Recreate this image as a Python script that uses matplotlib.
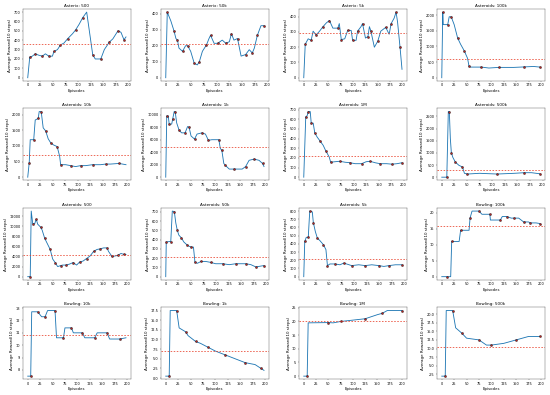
import matplotlib
matplotlib.use("Agg")
import matplotlib.pyplot as plt

titles = ["Asterix: 500", "Asterix: 50k", "Asterix: 5k", "Asteroids: 100k",
          "Asteroids: 10k", "Asteroids: 1k", "Asteroids: 1M", "Asteroids: 500k",
          "Asteroids: 500", "Asteroids: 50k", "Asteroids: 5k", "Bowling: 100k",
          "Bowling: 10k", "Bowling: 1k", "Bowling: 1M", "Bowling: 500k"]

ep1 = [0, 4, 9, 15, 22, 29, 35, 42, 49, 52, 59, 65, 72, 79, 89, 95, 102, 109, 117, 129, 134, 145, 152, 162, 169, 179, 185, 191, 195]
rw1 = [0, 220, 230, 255, 240, 230, 255, 230, 230, 280, 300, 350, 370, 415, 470, 510, 570, 640, 700, 245, 200, 200, 300, 380, 415, 500, 485, 405, 435]
ep2 = [0, 3, 10, 16, 20, 23, 26, 33, 39, 43, 49, 56, 62, 66, 72, 80, 85, 88, 95, 102, 111, 118, 125, 129, 134, 141, 148, 157, 164, 170, 174, 180, 187, 193]
rw2 = [0, 410, 355, 295, 245, 235, 185, 165, 200, 200, 165, 90, 80, 100, 165, 205, 245, 265, 215, 215, 235, 215, 225, 275, 235, 245, 135, 145, 175, 155, 185, 265, 325, 325]
ep3 = [0, 3, 9, 15, 19, 25, 32, 39, 46, 52, 59, 69, 72, 76, 83, 89, 96, 99, 106, 109, 116, 119, 125, 130, 133, 136, 143, 150, 156, 166, 173, 177, 183, 187, 190, 195, 199]
rw3 = [0, 220, 255, 245, 305, 280, 305, 335, 360, 375, 325, 325, 355, 250, 255, 310, 310, 245, 245, 305, 335, 355, 260, 270, 335, 305, 200, 240, 305, 330, 285, 355, 390, 430, 365, 200, 55]
ep4 = [0, 2, 3, 12, 15, 19, 25, 32, 38, 45, 52, 55, 58, 80, 95, 115, 145, 165, 185, 198]
rw4 = [0, 2100, 1700, 1700, 1950, 1950, 1700, 1270, 1070, 870, 620, 360, 340, 340, 310, 330, 330, 345, 360, 340]
ep5 = [0, 3, 5, 12, 15, 21, 23, 27, 31, 36, 41, 46, 52, 59, 64, 66, 76, 86, 96, 106, 116, 130, 146, 156, 166, 183, 197]
rw5 = [0, 470, 1200, 1200, 1830, 1880, 2100, 2100, 1580, 1480, 1230, 1100, 1030, 980, 670, 400, 400, 370, 340, 370, 370, 400, 400, 420, 420, 440, 400]
ep6 = [0, 2, 5, 7, 12, 14, 17, 19, 22, 27, 32, 39, 44, 47, 51, 58, 63, 73, 80, 86, 93, 107, 110, 113, 117, 120, 128, 137, 154, 161, 168, 178, 188, 195, 198]
rw6 = [0, 9800, 9800, 8500, 8500, 9300, 10500, 10500, 8700, 7500, 7100, 7100, 8100, 8000, 6600, 6100, 6900, 7100, 6900, 5900, 6000, 6000, 4600, 4300, 2200, 1900, 1300, 1300, 1300, 1700, 2700, 2900, 2700, 2200, 1700]
ep7 = [0, 4, 7, 9, 13, 15, 19, 22, 27, 32, 39, 44, 51, 54, 62, 72, 83, 93, 103, 116, 125, 133, 143, 153, 166, 177, 187, 197]
rw7 = [0, 625, 640, 680, 680, 560, 560, 460, 415, 380, 330, 275, 210, 155, 160, 165, 155, 150, 140, 140, 160, 165, 150, 140, 140, 135, 140, 150]
ep8 = [0, 10, 13, 15, 17, 19, 22, 27, 34, 41, 45, 51, 75, 110, 144, 164, 178, 195]
rw8 = [0, 0, 2700, 2700, 1600, 1010, 815, 620, 490, 420, 160, 130, 160, 130, 160, 185, 185, 140]
ep9 = [0, 5, 7, 10, 14, 17, 20, 26, 29, 34, 40, 45, 50, 55, 60, 66, 70, 77, 84, 91, 98, 104, 111, 118, 125, 132, 139, 145, 152, 159, 162, 169, 175, 180, 187, 193, 197]
rw9 = [0, 0, 13000, 10500, 10500, 11400, 10400, 9800, 9200, 7600, 6400, 5400, 3500, 2800, 2000, 2200, 2300, 2300, 2500, 2800, 2300, 2900, 3100, 3600, 4100, 5000, 5400, 5500, 5700, 5700, 5000, 4000, 4100, 4200, 4600, 4400, 4400]
ep10 = [0, 1, 7, 10, 13, 17, 20, 23, 26, 31, 36, 42, 46, 51, 55, 58, 63, 70, 79, 89, 99, 113, 126, 139, 149, 159, 169, 179, 189, 195]
rw10 = [0, 375, 380, 380, 710, 705, 580, 500, 450, 420, 375, 345, 330, 320, 320, 155, 145, 165, 165, 155, 140, 140, 130, 140, 140, 140, 130, 105, 115, 120]
ep11 = [0, 2, 5, 9, 11, 12, 17, 19, 23, 27, 32, 39, 44, 47, 52, 62, 72, 79, 85, 95, 109, 122, 135, 149, 159, 169, 182, 195]
rw11 = [0, 430, 480, 480, 705, 800, 790, 660, 550, 470, 440, 390, 330, 135, 155, 155, 145, 165, 155, 135, 145, 135, 145, 135, 125, 135, 145, 145]
ep12 = [0, 10, 18, 20, 35, 38, 55, 57, 61, 75, 81, 97, 98, 118, 122, 131, 140, 145, 155, 165, 175, 178, 190, 198]
rw12 = [0, 0, 0, 11, 11, 14.5, 14.5, 18.3, 20.5, 20.5, 19.5, 19.5, 17.7, 17.7, 18.8, 18.8, 18.3, 18.3, 18.3, 17.1, 17.1, 16.8, 16.8, 16.6]
ep13 = [0, 6, 8, 20, 28, 35, 40, 55, 58, 72, 75, 88, 92, 110, 115, 135, 140, 160, 165, 185, 198]
rw13 = [7.5, 7.5, 12.7, 12.7, 12.3, 12.3, 12.8, 12.8, 10.6, 10.6, 11.4, 11.4, 11.0, 11.0, 10.6, 10.6, 11.0, 11.0, 10.5, 10.5, 10.6]
ep14 = [0, 7, 9, 22, 27, 40, 45, 60, 70, 85, 100, 120, 140, 160, 180, 192, 198]
rw14 = [0.5, 0.5, 17.5, 17.5, 13.0, 12.0, 11.0, 9.5, 9.0, 8.0, 7.0, 6.0, 5.0, 4.0, 3.5, 2.5, 2.0]
ep15 = [0, 7, 9, 50, 60, 75, 100, 125, 150, 160, 170, 200]
rw15 = [0, 0, 19.5, 19.6, 19.5, 20.0, 20.5, 21.0, 22.5, 23.0, 24.0, 24.0]
ep16 = [0, 7, 9, 22, 28, 40, 50, 75, 90, 100, 125, 150, 175, 198]
rw16 = [2, 2, 21, 21, 16, 14.5, 13, 12.5, 11, 11, 11.5, 12.5, 13.5, 13.5]

means = [355, 210, 295, 600, 700, 4800, 215, 290, 4200, 215, 215, 15.8, 10.8, 7.0, 20.0, 10.5]

eps = [ep1, ep2, ep3, ep4, ep5, ep6, ep7, ep8, ep9, ep10, ep11, ep12, ep13, ep14, ep15, ep16]
rws = [rw1, rw2, rw3, rw4, rw5, rw6, rw7, rw8, rw9, rw10, rw11, rw12, rw13, rw14, rw15, rw16]

fig, axes = plt.subplots(4, 4, figsize=(22, 15.8), dpi=25)
for i, ax in enumerate(axes.flat):
    x = eps[i]
    y = rws[i]
    ax.plot(x, y, color="#1f77b4", lw=2.5)
    ax.plot(x[1::2], y[1::2], "o", color="#b22222", mec="black", mew=1, ms=6, lw=0)
    ax.axhline(means[i], color="#e8402a", ls=(0, (2, 2)), lw=2.2)
    ax.set_title(titles[i], fontsize=12)
    ax.set_xlabel("Episodes", fontsize=11)
    ax.set_ylabel("Average Reward(10 steps)", fontsize=11.5)
    ax.set_xticks([0, 25, 50, 75, 100, 125, 150, 175, 200])
    ax.tick_params(labelsize=10)
fig.tight_layout(h_pad=3, w_pad=3)
fig.savefig("out.png", dpi=25)
